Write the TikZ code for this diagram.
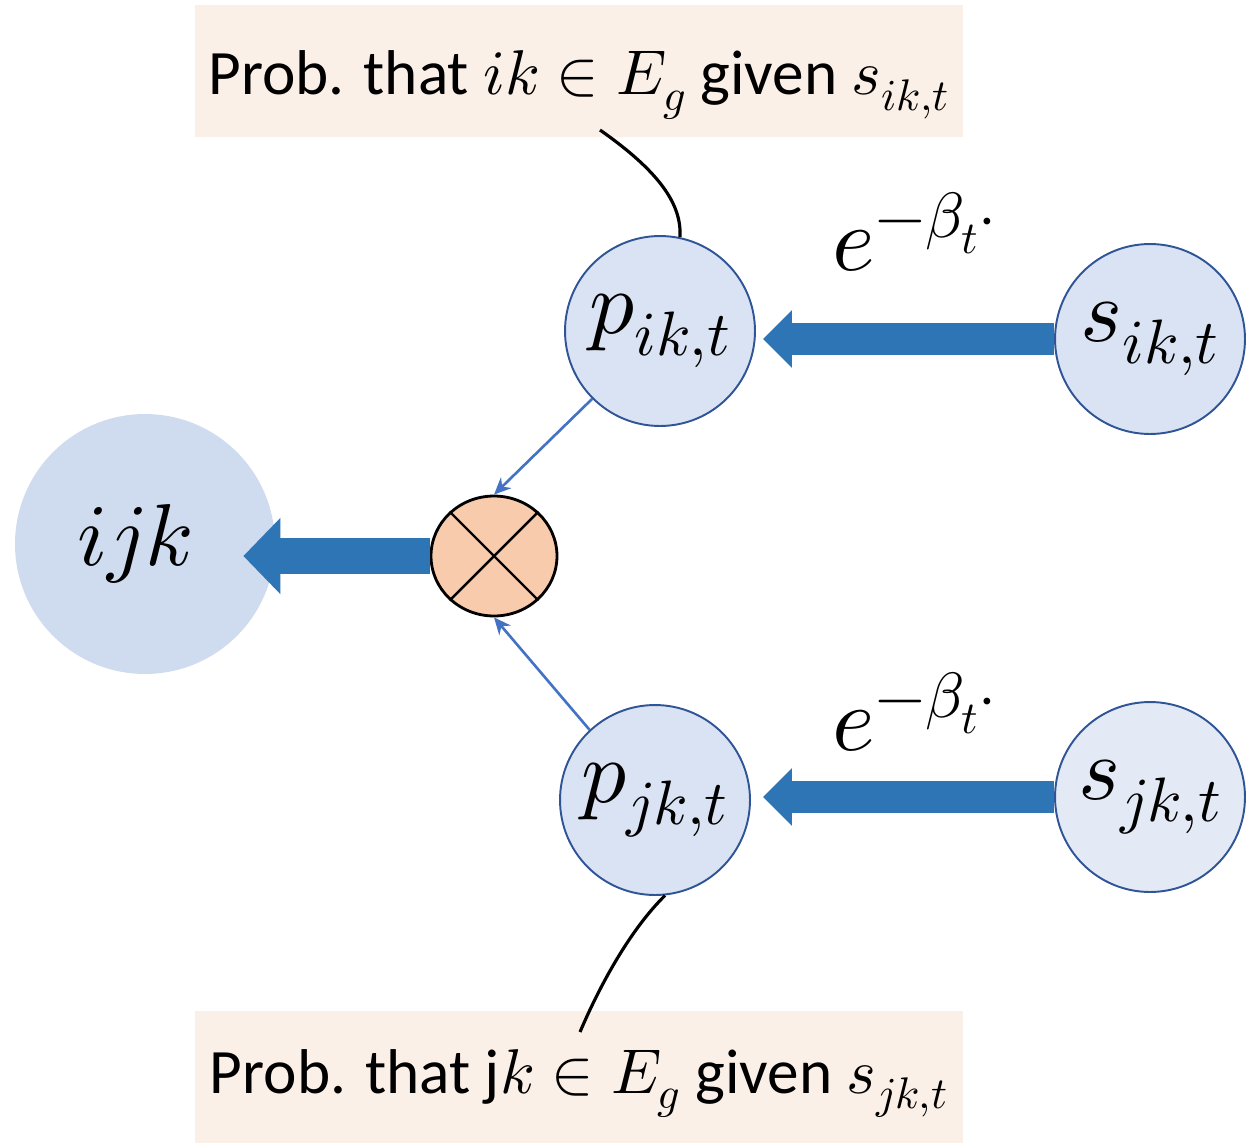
\documentclass[tikz,border=0pt]{standalone}
\usepackage{fontspec}
\usepackage{unicode-math}
\setmainfont{Carlito}
\setmathfont{Latin Modern Math}
\usepackage{tikz}
\usetikzlibrary{shapes.geometric,arrows.meta,positioning}
\definecolor{nodefill}{RGB}{218,227,243}
\definecolor{nodelite}{RGB}{227,234,246}
\definecolor{nodeedge}{RGB}{47,85,151}
\definecolor{tripfill}{RGB}{207,220,239}
\definecolor{prodfill}{RGB}{248,203,173}
\definecolor{fatblue}{RGB}{46,117,182}
\definecolor{thinblue}{RGB}{68,114,196}
\definecolor{notefill}{RGB}{251,240,232}
\newcommand{\decay}{$e^{-\beta_t\cdot}$}

\begin{document}
\begin{tikzpicture}[x=0.02cm,y=-0.02cm,
  state/.style={circle,draw=nodeedge,fill=nodefill,line width=1.1pt,
    inner sep=0pt,minimum size=3.8cm,font=\fontsize{51}{55}\selectfont},
  note/.style={rectangle,fill=notefill,inner sep=0pt,minimum width=15.36cm,
    minimum height=2.64cm,font=\fontsize{36}{44}\selectfont},
  fat/.style={draw=fatblue,line width=0.64cm,
    -{Triangle[length=0.58cm,width=1.12cm]}},
  thin/.style={draw=thinblue,line width=1.5pt,
    -{Stealth[length=0.34cm,width=0.3cm]}},
  lbl/.style={font=\fontsize{52}{56}\selectfont}]
  \useasboundingbox (0,0) rectangle (1250,1143);
  % nodes
  \node[circle,fill=tripfill,inner sep=0pt,minimum size=5.2cm,
    font=\fontsize{50}{54}\selectfont] (ijk) at (145,544)
    {\hspace*{-0.4cm}$ijk$};
  \node[ellipse,draw,line width=1.6pt,fill=prodfill,inner sep=0pt,
    minimum width=2.52cm,minimum height=2.4cm] (prod) at (494,556) {};
  \draw[line width=1.4pt] (prod.45) -- (prod.225) (prod.135) -- (prod.-45);
  \node[state] (pik) at (660,331) {$p_{ik,t}$};
  \node[state] (sik) at (1150,339) {$s_{ik,t}$};
  \node[state] (pjk) at (655,800) {$p_{jk,t}$};
  \node[state,fill=nodelite] (sjk) at (1150,797) {$s_{jk,t}$};
  \node[note,text height=1.2cm,text depth=0.24cm] (topnote) at (579,71)
    {Prob. that $ik\in E_g$ given $s_{ik,t}$};
  \node[note,text height=1.0cm,text depth=0.36cm] (botnote) at (579,1077)
    {Prob. that j$k\in E_g$ given $s_{jk,t}$};
  \node[lbl] (elabtop) at (915,232) {\decay};
  \node[lbl] (elabbot) at (915,712) {\decay};
  \coordinate (toptail) at (600,130);
  \coordinate (bottail) at (580,1032);
  % connectors
  \draw[fat] (sik.west) -- ([xshift=7*0.02cm]pik.east |- sik.west);
  \draw[fat] (sjk.west) -- ([xshift=12*0.02cm]pjk.east |- sjk.west);
  \draw[draw=fatblue,line width=0.72cm,
    -{Triangle[length=0.74cm,width=1.48cm]},shorten >=-0.64cm]
    (prod.west) -- (ijk.east |- prod.west);
  \draw[thin] (pik.225) -- (prod.north);
  \draw[thin] (pjk.133) -- (prod.south);
  \draw[line width=1.8pt] (toptail) .. controls (660,172) and (682,205) .. (pik.78);
  \draw[line width=1.8pt] (pjk.-84) .. controls (630,930) and (600,985) .. (bottail);
\end{tikzpicture}
\end{document}
